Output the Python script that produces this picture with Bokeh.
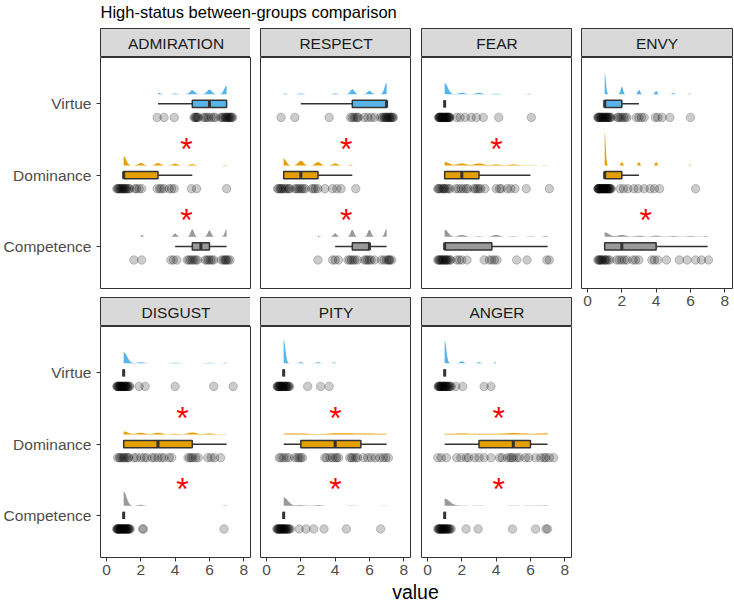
import numpy as np
from bokeh.plotting import figure
from bokeh.layouts import column, row
from bokeh.models import Range1d, FixedTicker, ColumnDataSource, Label
from bokeh.core.properties import value
from bokeh.embed import file_html
from bokeh.resources import INLINE

FONT = "Liberation Sans"

emotions = ["ADMIRATION", "RESPECT", "FEAR", "ENVY", "DISGUST", "PITY", "ANGER"]
groups = ["Virtue", "Dominance", "Competence"]
group_pos = {"Competence": 1, "Dominance": 2, "Virtue": 3}
group_color = {"Virtue": "#56B4E9", "Dominance": "#E69F00", "Competence": "#999999"}

# ---- ratings per participant (jittered horizontally as shown) ----
admiration_virtue = [2.95, 3.35, 3.95, 5.1, 5.15, 5.2, 5.25, 5.3, 5.35, 5.65, 5.75, 5.85, 5.95, 6.1, 6.25,
                     6.35, 6.65, 6.75, 6.8, 6.9, 6.95, 7.0, 7.05, 7.1, 7.15, 7.2, 7.25, 7.3, 7.35]
admiration_dominance = [0.6, 0.65, 0.7, 0.75, 0.8, 0.85, 0.9, 0.95, 1.0, 1.05, 1.1, 1.15, 1.2, 1.3, 1.35,
                        1.65, 1.75, 1.9, 2.05, 2.95, 3.1, 3.2, 3.35, 3.65, 3.8, 3.95, 4.95, 5.25, 7.0]
admiration_competence = [1.6, 2.05, 3.75, 3.9, 4.1, 4.7, 4.8, 4.9, 5.0, 5.1, 5.2, 5.3, 5.75, 5.85, 5.95,
                         6.05, 6.15, 6.25, 6.7, 6.8, 6.9, 6.95, 7.0, 7.1, 7.2]

respect_virtue = [0.85, 1.65, 3.65, 4.9, 5.0, 5.1, 5.2, 5.3, 5.35, 5.7, 5.9, 6.1, 6.3, 6.65, 6.75, 6.85,
                  6.9, 6.95, 7.0, 7.05, 7.1, 7.15, 7.2, 7.25, 7.3, 7.35, 7.4]
respect_dominance = [0.65, 0.7, 0.8, 0.85, 0.9, 1.0, 1.1, 1.2, 1.3, 1.35, 1.65, 1.75, 1.85, 1.95, 2.05,
                     2.15, 2.25, 2.65, 2.75, 2.85, 3.0, 3.4, 3.85, 4.1, 4.35, 5.2]
respect_competence = [3.0, 3.85, 4.0, 4.2, 4.75, 4.85, 4.95, 5.05, 5.15, 5.3, 5.7, 5.8, 5.9, 6.0, 6.1,
                      6.3, 6.7, 6.85, 7.0, 7.1, 7.15, 7.2, 7.3]

fear_virtue = [0.65, 0.67, 0.69, 0.72, 0.74, 0.77, 0.8, 0.83, 0.86, 0.89, 0.92, 0.95, 0.98, 1.01, 1.04,
               1.07, 1.1, 1.13, 1.16, 1.19, 1.22, 1.25, 1.28, 1.31, 1.7, 1.9, 2.2, 2.55, 2.85, 3.25,
               4.15, 6.05]
fear_dominance = [0.6, 0.65, 0.7, 0.8, 0.9, 0.95, 1.0, 1.1, 1.2, 1.3, 1.65, 1.8, 1.95, 2.1, 2.25, 2.35,
                  2.7, 2.8, 2.9, 3.0, 3.1, 3.35, 4.0, 4.2, 4.3, 4.65, 4.85, 5.1, 5.75, 7.1]
fear_competence = [0.6, 0.65, 0.7, 0.75, 0.8, 0.85, 0.9, 0.95, 1.0, 1.05, 1.1, 1.15, 1.2, 1.3, 1.35,
                   1.7, 1.85, 2.0, 2.3, 3.3, 3.6, 3.75, 3.9, 4.05, 5.2, 5.8, 6.95, 7.1]

envy_virtue = [0.6, 0.63, 0.66, 0.7, 0.74, 0.78, 0.82, 0.86, 0.9, 0.94, 0.98, 1.02, 1.06, 1.1, 1.14,
               1.18, 1.22, 1.27, 1.32, 1.38, 1.75, 1.8, 1.9, 2.0, 2.1, 2.2, 2.3, 2.85, 3.0, 3.15, 3.3,
               3.95, 4.1, 4.35, 4.8, 6.0]
envy_dominance = [0.6, 0.62, 0.64, 0.66, 0.68, 0.7, 0.73, 0.76, 0.79, 0.82, 0.85, 0.88, 0.91, 0.94,
                  0.97, 1.0, 1.03, 1.06, 1.09, 1.12, 1.15, 1.18, 1.21, 1.24, 1.27, 1.3, 1.34, 1.38,
                  1.9, 2.1, 2.35, 2.7, 2.95, 3.3, 3.65, 3.9, 4.2, 6.3]
envy_competence = [0.6, 0.65, 0.7, 0.75, 0.8, 0.85, 0.9, 1.0, 1.05, 1.1, 1.2, 1.3, 1.7, 1.85, 2.0, 2.15,
                   2.3, 2.65, 2.8, 3.0, 3.75, 3.9, 4.1, 4.6, 5.35, 5.8, 6.3, 6.65, 7.05]

disgust_virtue = [0.6, 0.63, 0.66, 0.69, 0.72, 0.75, 0.78, 0.81, 0.84, 0.87, 0.9, 0.93, 0.96, 0.99, 1.02,
                  1.05, 1.08, 1.11, 1.14, 1.18, 1.22, 1.26, 1.31, 1.36, 1.9, 2.25, 4.0, 6.25, 7.38]
disgust_dominance = [0.65, 0.75, 0.8, 0.9, 1.0, 1.05, 1.15, 1.25, 1.3, 1.6, 1.75, 2.0, 2.2, 2.35, 2.65,
                     2.8, 3.0, 3.2, 3.35, 3.65, 3.8, 4.75, 4.85, 4.95, 5.05, 5.2, 5.35, 5.9, 6.1, 6.3, 6.65]
disgust_competence = [0.6, 0.62, 0.64, 0.67, 0.7, 0.72, 0.75, 0.78, 0.8, 0.83, 0.86, 0.88, 0.91, 0.94,
                      0.97, 1.0, 1.03, 1.06, 1.09, 1.12, 1.15, 1.18, 1.21, 1.24, 1.27, 1.3, 1.34, 1.38,
                      2.1, 2.15, 6.85]

pity_virtue = [0.62, 0.65, 0.68, 0.71, 0.74, 0.77, 0.8, 0.84, 0.87, 0.9, 0.94, 0.97, 1.0, 1.04, 1.07,
               1.1, 1.14, 1.18, 1.22, 1.26, 1.3, 1.35, 2.4, 3.15, 3.65]
pity_dominance = [0.75, 0.85, 1.0, 1.15, 1.3, 1.65, 1.8, 1.9, 2.0, 2.1, 3.4, 3.5, 3.7, 3.85, 4.0, 4.1,
                  4.2, 4.85, 4.95, 5.05, 5.2, 5.3, 5.65, 5.9, 6.1, 6.35, 6.6, 6.8, 6.95, 7.1]
pity_competence = [0.6, 0.64, 0.67, 0.7, 0.74, 0.77, 0.8, 0.84, 0.87, 0.9, 0.94, 0.97, 1.0, 1.04, 1.07,
                   1.1, 1.14, 1.18, 1.22, 1.27, 1.32, 1.38, 1.9, 2.3, 2.75, 3.35, 4.65, 6.65]

anger_virtue = [0.62, 0.65, 0.68, 0.71, 0.74, 0.77, 0.8, 0.84, 0.87, 0.9, 0.94, 0.97, 1.0, 1.04, 1.07,
                1.1, 1.14, 1.18, 1.22, 1.27, 1.32, 1.38, 1.65, 2.05, 3.3, 3.7]
anger_dominance = [0.6, 0.8, 1.1, 1.7, 1.95, 2.25, 2.4, 2.75, 3.0, 3.3, 3.7, 4.2, 4.35, 4.65, 4.8, 4.9,
                   5.0, 5.2, 5.35, 5.7, 5.9, 6.3, 6.6, 6.8, 6.9, 7.1, 7.35]
anger_competence = [0.6, 0.64, 0.67, 0.7, 0.74, 0.77, 0.8, 0.84, 0.87, 0.9, 0.94, 0.97, 1.0, 1.04, 1.07,
                    1.1, 1.14, 1.18, 1.22, 1.27, 1.32, 1.38, 2.25, 2.95, 4.95, 6.3, 6.9, 7.0]

ratings = {
    "ADMIRATION": {"Virtue": admiration_virtue, "Dominance": admiration_dominance, "Competence": admiration_competence},
    "RESPECT": {"Virtue": respect_virtue, "Dominance": respect_dominance, "Competence": respect_competence},
    "FEAR": {"Virtue": fear_virtue, "Dominance": fear_dominance, "Competence": fear_competence},
    "ENVY": {"Virtue": envy_virtue, "Dominance": envy_dominance, "Competence": envy_competence},
    "DISGUST": {"Virtue": disgust_virtue, "Dominance": disgust_dominance, "Competence": disgust_competence},
    "PITY": {"Virtue": pity_virtue, "Dominance": pity_dominance, "Competence": pity_competence},
    "ANGER": {"Virtue": anger_virtue, "Dominance": anger_dominance, "Competence": anger_competence},
}

# ---- boxplot statistics: [lower whisker, Q1, median, Q3, upper whisker] ----
box_stats = {
    "ADMIRATION": {"Virtue": [3, 5, 6, 7, 7], "Dominance": [1, 1, 1, 3, 5], "Competence": [4, 5, 5.5, 6, 7]},
    "RESPECT": {"Virtue": [2, 5, 7, 7, 7], "Dominance": [1, 1, 2, 3, 5], "Competence": [4, 5, 6, 6, 7]},
    "FEAR": {"Virtue": [1, 1, 1, 1, 1], "Dominance": [1, 1, 2, 3, 6], "Competence": [1, 1, 1, 3.75, 7]},
    "ENVY": {"Virtue": [1, 1, 1, 2, 3], "Dominance": [1, 1, 1, 2, 3], "Competence": [1, 1, 2, 4, 7]},
    "DISGUST": {"Virtue": [1, 1, 1, 1, 1], "Dominance": [1, 1, 3, 5, 7], "Competence": [1, 1, 1, 1, 1]},
    "PITY": {"Virtue": [1, 1, 1, 1, 1], "Dominance": [1, 2, 4, 5.5, 7], "Competence": [1, 1, 1, 1, 1]},
    "ANGER": {"Virtue": [1, 1, 1, 1, 1], "Dominance": [1, 3, 5, 6, 7], "Competence": [1, 1, 1, 1, 1]},
}

# ---- kernel bandwidths for the density slabs [Virtue, Dominance, Competence] ----
bandwidth = {
    "ADMIRATION": [0.14, 0.15, 0.10],
    "RESPECT": [0.12, 0.15, 0.10],
    "FEAR": [0.18, 0.25, 0.20],
    "ENVY": [0.07, 0.06, 0.25],
    "DISGUST": [0.20, 0.25, 0.17],
    "PITY": [0.10, 0.45, 0.25],
    "ANGER": [0.10, 0.45, 0.30],
}

# ---- significance markers between neighbouring groups ----
star_x = [4.66, 4.64, 4.02, 3.40, 4.43, 4.02, 4.15]
star_virtue_dominance = [True, True, True, False, True, True, True]
star_dominance_competence = [True, True, False, True, True, True, True]

tick_values = [0, 2, 4, 6, 8]


def slab(vals, bw):
    """Trimmed gaussian density of the underlying integer responses."""
    r = np.floor(np.asarray(vals, dtype=float) + 0.5)
    g = np.linspace(r.min(), r.max(), 700)
    d = np.exp(-0.5 * ((g[:, None] - r[None, :]) / bw) ** 2).sum(axis=1)
    d /= len(r) * bw * np.sqrt(2 * np.pi)
    return g, d


densities = {}
for em in emotions:
    for gi, gname in enumerate(groups):
        densities[(em, gname)] = slab(ratings[em][gname], bandwidth[em][gi])
dmax = max(d.max() for _, d in densities.values())
SLAB_HEIGHT = 0.46           # tallest slab, in category units
slab_scale = SLAB_HEIGHT / dmax

SLAB_OFFSET = 0.135
POINT_OFFSET = -0.19
BOX_HALF = 0.0515
XR = (-0.35, 8.45)
YR = (0.41, 3.65)
FRAME_W, FRAME_H, STRIP_H = 151, 231, 29
LEFT_BORDER = [99, 9, 10, 9]
AXIS_BORDER = 23      # room under the bottom-row panels for the tick labels
VALUE_H = 602 - 28 - (STRIP_H + FRAME_H + 9 + STRIP_H + FRAME_H + AXIS_BORDER)


def style_axis(ax):
    ax.axis_line_color = None
    ax.major_tick_line_color = "#333333"
    ax.major_tick_line_width = 1
    ax.major_tick_out = 4
    ax.major_tick_in = 0
    ax.minor_tick_line_color = None
    ax.minor_tick_out = 0
    ax.major_label_text_font = FONT
    ax.major_label_text_font_size = "15.5px"
    ax.major_label_text_line_height = 1.0
    ax.major_label_text_color = "#4d4d4d"


def make_strip(name, col):
    s = figure(title=None, frame_width=FRAME_W, frame_height=STRIP_H, x_range=Range1d(0, 1),
               y_range=Range1d(0, 1), x_axis_location=None, y_axis_location=None, toolbar_location=None,
               output_backend="svg", min_border=0, min_border_left=LEFT_BORDER[col],
               min_border_right=3 if col == 3 else 0)
    s.grid.visible = False
    s.background_fill_color = "#d9d9d9"
    s.border_fill_color = "white"
    s.outline_line_color = "#333333"
    s.outline_line_width = 1
    s.text(x=[0.5], y=[0.5], text=[name], text_align="center", text_baseline="middle",
           text_font=value(FONT), text_font_size="15.5px", text_color="#1a1a1a")
    return s


def make_panel(idx, col, row_i):
    em = emotions[idx]
    show_y = col == 0
    show_x = row_i == 1 or col == 3
    p = figure(title=None, frame_width=FRAME_W, frame_height=FRAME_H, x_range=Range1d(*XR),
               y_range=Range1d(*YR), x_axis_location="below" if show_x else None,
               y_axis_location="left" if show_y else None, toolbar_location=None, output_backend="svg",
               min_border=0, min_border_left=LEFT_BORDER[col], min_border_right=3 if col == 3 else 0,
               min_border_bottom=AXIS_BORDER if show_x else 9)
    p.grid.visible = False
    p.outline_line_color = "#333333"
    p.outline_line_width = 1
    p.background_fill_color = "white"
    p.border_fill_color = "white"
    if show_x:
        p.xaxis.ticker = FixedTicker(ticks=tick_values)
        p.xaxis.major_label_standoff = 3
        style_axis(p.xaxis[0])
    if show_y:
        p.yaxis.ticker = FixedTicker(ticks=[1, 2, 3])
        p.yaxis.major_label_overrides = {1: "Competence", 2: "Dominance", 3: "Virtue"}
        p.yaxis.major_label_standoff = 5
        style_axis(p.yaxis[0])

    for gname in groups:
        y0 = group_pos[gname]
        color = group_color[gname]
        g, d = densities[(em, gname)]
        base = y0 + SLAB_OFFSET
        p.varea(x=g, y1=np.full_like(g, base), y2=base + d * slab_scale, fill_color=color, fill_alpha=1)

        pts = ratings[em][gname]
        src = ColumnDataSource(dict(x=pts, y=[y0 + POINT_OFFSET] * len(pts)))
        p.scatter("x", "y", source=src, size=8.5, fill_color="black", fill_alpha=0.2,
                  line_color="black", line_alpha=0.25, line_width=0.8)

        lo, q1, med, q3, hi = box_stats[em][gname]
        p.segment(x0=[lo, q3], y0=[y0, y0], x1=[q1, hi], y1=[y0, y0], line_color="#333333", line_width=1.5)
        p.quad(left=[q1], right=[q3], bottom=[y0 - BOX_HALF], top=[y0 + BOX_HALF],
               fill_color=color, line_color="#333333", line_width=1.5)
        p.segment(x0=[med], y0=[y0 - BOX_HALF], x1=[med], y1=[y0 + BOX_HALF],
                  line_color="#333333", line_width=3)

    sy = []
    if star_virtue_dominance[idx]:
        sy.append(2.41)
    if star_dominance_competence[idx]:
        sy.append(1.41)
    if sy:
        p.text(x=[star_x[idx]] * len(sy), y=sy, text=["*"] * len(sy), text_align="center",
               text_baseline="middle", y_offset=3, text_font=value(FONT), text_font_size="32px",
               text_color="#FF0000")
    return p


placement = {"ADMIRATION": (0, 0), "RESPECT": (1, 0), "FEAR": (2, 0), "ENVY": (3, 0),
             "DISGUST": (0, 1), "PITY": (1, 1), "ANGER": (2, 1)}

cols = [[] for _ in range(4)]
for row_i in (0, 1):
    for idx, em in enumerate(emotions):
        c, r = placement[em]
        if r != row_i:
            continue
        cols[c].append(make_strip(em, c))
        cols[c].append(make_panel(idx, c, r))

grid = row(*[column(*c, spacing=0) for c in cols], spacing=0)

# page title (pixel coordinates, y measured upward inside a 28 px band)
title_fig = figure(title=None, frame_width=734, frame_height=28, x_range=Range1d(0, 734),
                   y_range=Range1d(0, 28), x_axis_location=None, y_axis_location=None,
                   toolbar_location=None, output_backend="svg", min_border=0)
title_fig.grid.visible = False
title_fig.outline_line_color = None
title_fig.text(x=[100], y=[16.5], text=["High-status between-groups comparison"], text_align="left",
               text_baseline="middle", text_font=value(FONT), text_font_size="16.5px",
               text_color="black")

# shared x-axis title under the facet grid
value_fig = figure(title=None, frame_width=734, frame_height=VALUE_H, x_range=Range1d(0, 734),
                   y_range=Range1d(0, VALUE_H), x_axis_location=None, y_axis_location=None,
                   toolbar_location=None, output_backend="svg", min_border=0)
value_fig.grid.visible = False
value_fig.outline_line_color = None
value_fig.add_layout(Label(x=415, y=VALUE_H / 2, text="value", text_align="center",
                           text_baseline="middle", text_font=FONT, text_font_size="19.5px",
                           text_color="black"))

page = column(title_fig, grid, value_fig, spacing=0)

open("out.html", "w").write(file_html(page, INLINE))
